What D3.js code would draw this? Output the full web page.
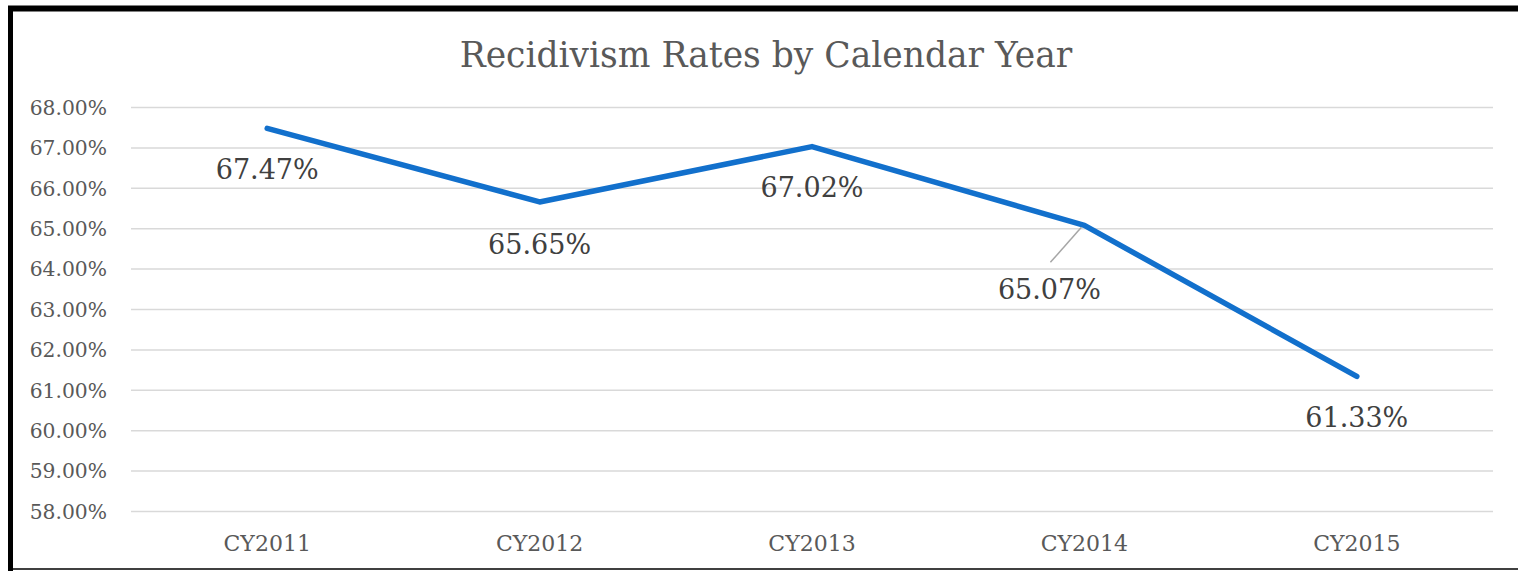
<!DOCTYPE html>
<html><head><meta charset="utf-8">
<script src="https://cdn.jsdelivr.net/npm/d3@7"></script>
<style>html,body{margin:0;padding:0;background:#fff;}svg{display:block;}</style>
</head><body>
<svg id="chart" width="1518" height="571"></svg>
<script>
const categories = ["CY2011","CY2012","CY2013","CY2014","CY2015"];
const values = [67.47, 65.65, 67.02, 65.07, 61.33];
const labels = ["67.47%","65.65%","67.02%","65.07%","61.33%"];
const yTicks = [58,59,60,61,62,63,64,65,66,67,68];

const svg = d3.select("#chart");
const font = "'DejaVu Serif', serif";
const grey = "#595959";

// frame
svg.append("rect").attr("x",0).attr("y",0).attr("width",1518).attr("height",571).attr("fill","#fff");
svg.append("line").attr("x1",10.5).attr("x2",10.5).attr("y1",6).attr("y2",571).attr("stroke","#000").attr("stroke-width",5);
svg.append("line").attr("x1",8).attr("x2",1518).attr("y1",8.5).attr("y2",8.5).attr("stroke","#000").attr("stroke-width",6);
svg.append("line").attr("x1",8).attr("x2",1518).attr("y1",569).attr("y2",569).attr("stroke","#000").attr("stroke-width",1.5);

const x = d3.scaleBand().domain(categories).range([131,1493]);
const y = d3.scaleLinear().domain([58,68]).range([511,107]);

svg.append("text").attr("x",766).attr("y",67).attr("text-anchor","middle")
  .attr("font-family",font).attr("font-size",34.5).attr("fill",grey)
  .text("Recidivism Rates by Calendar Year");

const yAxis = svg.append("g").attr("transform","translate(131,0)")
  .call(d3.axisLeft(y).tickValues(yTicks).tickSize(-1362).tickFormat(d=>d.toFixed(2)+"%"));
yAxis.select(".domain").remove();
yAxis.selectAll(".tick line").attr("stroke","#d9d9d9").attr("stroke-width",1.5);
yAxis.selectAll(".tick text").attr("x",-24).attr("dy","0.36em").attr("font-family",font).attr("font-size",20.3).attr("fill",grey);

const xAxis = svg.append("g").attr("transform","translate(0,511)")
  .call(d3.axisBottom(x).tickSize(0));
xAxis.select(".domain").remove();
xAxis.selectAll(".tick text").attr("y",40).attr("dy",0).attr("font-family",font).attr("font-size",22).attr("fill",grey);

const pts = categories.map((c,i)=>({c, v:values[i], l:labels[i]}));
const line = d3.line().x(d=>x(d.c)+x.bandwidth()/2).y(d=>y(d.v));
svg.append("path").datum(pts).attr("d",line).attr("fill","none")
  .attr("stroke","#1270CC").attr("stroke-width",5.5).attr("stroke-linejoin","round").attr("stroke-linecap","round");

// data labels
const offsets = [{dx:0,dy:51},{dx:0,dy:52},{dx:0,dy:50},{dx:-35,dy:74},{dx:0,dy:51}];
// leader line for CY2014
const p3 = pts[3];
svg.append("line").attr("x1",x(p3.c)+x.bandwidth()/2-3).attr("y1",y(p3.v)+2)
  .attr("x2",x(p3.c)+x.bandwidth()/2-34).attr("y2",y(p3.v)+37).attr("stroke","#a6a6a6").attr("stroke-width",1.5);

svg.selectAll(".dl").data(pts).enter().append("text")
  .attr("x",(d,i)=>x(d.c)+x.bandwidth()/2+offsets[i].dx)
  .attr("y",(d,i)=>y(d.v)+offsets[i].dy)
  .attr("text-anchor","middle").attr("font-family",font).attr("font-size",27).attr("fill","#404040")
  .text(d=>d.l);
</script>
</body></html>
